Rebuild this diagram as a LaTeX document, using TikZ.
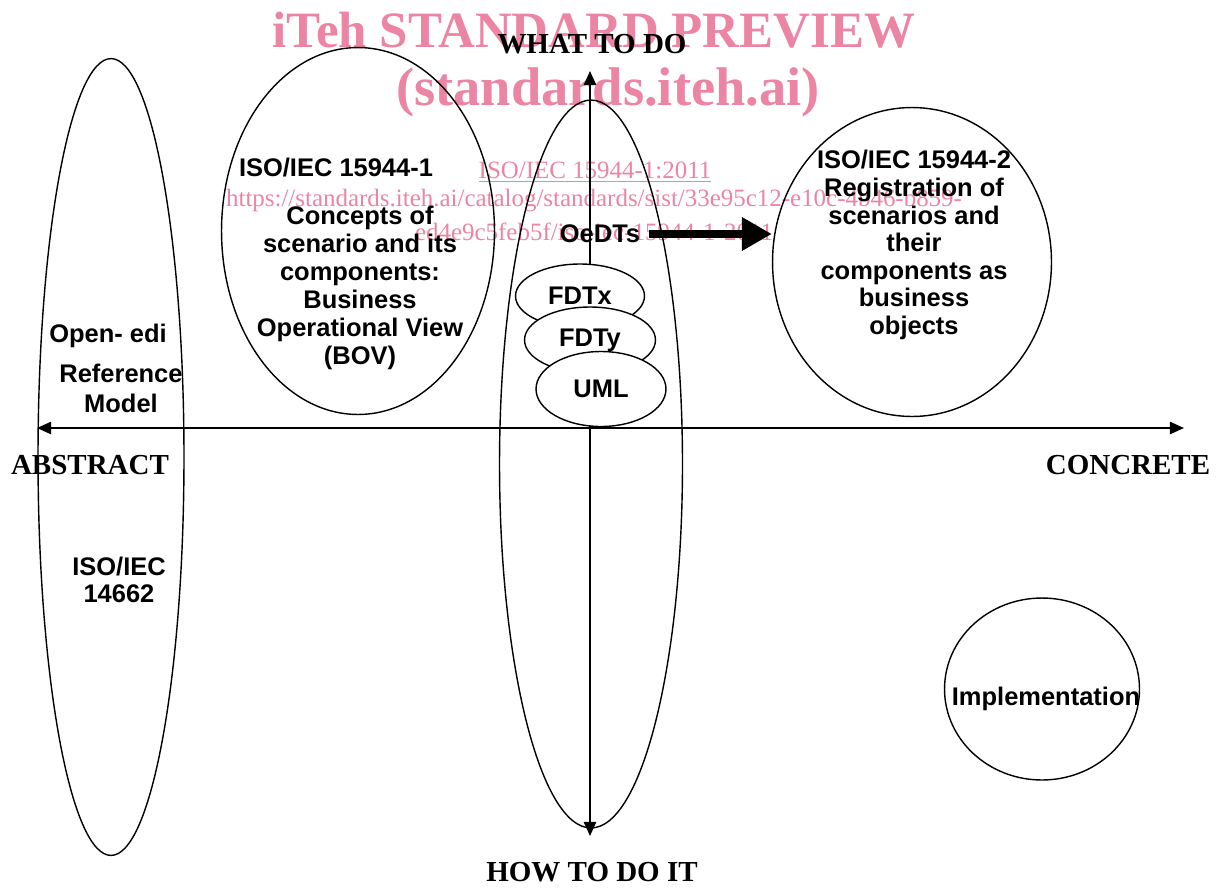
\documentclass[tikz,border=0pt]{standalone}
\usepackage{fontspec}
\setmainfont{Liberation Serif}
\setsansfont{Liberation Sans}
\usetikzlibrary{shapes.geometric}
\usetikzlibrary{arrows.meta}
\definecolor{wmpink}{RGB}{236,132,163}

\begin{document}
\begin{tikzpicture}[x=0.02cm, y=-0.02cm,
  blob/.style={draw, ellipse, line width=0.8pt, inner sep=0pt},
  subblob/.style={blob, fill=white, font=\sffamily\bfseries\fontsize{14.5}{16}\selectfont},
  lbl/.style={font=\sffamily\bfseries\fontsize{14.5}{16}\selectfont, align=center, inner sep=0pt},
  axlbl/.style={font=\bfseries\fontsize{16.5}{19}\selectfont, inner sep=0pt},
  axis/.style={line width=0.9pt, {Triangle[length=8pt,width=7pt]}-{Triangle[length=8pt,width=7pt]}},
  wm/.style={text=wmpink, inner sep=0pt}
]
\useasboundingbox (0,0) rectangle (1223,893);

% watermark
\node[wm, font=\bfseries\fontsize{29}{29}\selectfont] (wmA) at (594,30) {iTeh STANDARD PREVIEW};
\node[wm, font=\bfseries\fontsize{31}{31}\selectfont] (wmB) at (608,92) {(standards.iteh.ai)};
\node[wm, font=\fontsize{14.2}{16}\selectfont] (wmC) at (595,172) {\underline{ISO/IEC 15944-1:2011}};
\node[wm, font=\fontsize{14.2}{16}\selectfont] (wmD) at (594,201) {https://standards.iteh.ai/catalog/standards/sist/33e95c12-e10c-4b46-b859-};
\node[wm, font=\fontsize{14.2}{16}\selectfont] (wmE) at (594,232) {ed4e9c5feb5f/iso-iec-15944-1-2011};

% axes
\coordinate (top) at (590,71);
\coordinate (bot) at (590,836);
\coordinate (lft) at (37,428);
\coordinate (rgt) at (1184,428);
\draw[axis] (bot) -- (top);
\draw[axis] (lft) -- (rgt);
\node[axlbl] (what) at (592,44) {WHAT TO DO};
\node[axlbl] (how) at (592,872) {HOW TO DO IT};
\node[axlbl] (abs) at (90,465) {ABSTRACT};
\node[axlbl] (con) at (1128,465) {CONCRETE};

% big ellipses
\node[blob, minimum width=2.92cm, minimum height=15.94cm] (orm) at (111,457) {};
\node[blob, minimum width=5.46cm, minimum height=7.34cm] (bov) at (358,231) {};
\node[blob, minimum width=3.66cm, minimum height=14.56cm] (oedt) at (591,464) {};
\node[blob, minimum width=5.58cm, minimum height=6.18cm] (reg) at (912,262) {};
\node[blob, minimum width=3.9cm, minimum height=3.64cm] (impl) at (1042,689) {};

% description techniques
\node[subblob, minimum width=2.58cm, minimum height=1.28cm] (fdtx) at (580,296) {FDTx};
\node[subblob, minimum width=2.62cm, minimum height=1.32cm] (fdty) at (590,340) {FDTy};
\node[subblob, minimum width=2.6cm, minimum height=1.5cm] (uml) at (601,389) {UML};

% texts
\node[lbl] (ormA) at (108,336) {Open- edi};
\node[lbl, font=\sffamily\bfseries\fontsize{14.5}{17}\selectfont] (ormB) at (121,388) {Reference\\Model};
\node[lbl, font=\sffamily\bfseries\fontsize{14.5}{15}\selectfont] (ormC) at (119,580) {ISO/IEC\\14662};
\node[lbl] (bovA) at (336,168) {ISO/IEC 15944-1};
\node[lbl] (bovB) at (360,288) {Concepts of\\scenario and its\\components:\\Business\\Operational View\\(BOV)};
\node[lbl, font=\sffamily\bfseries\fontsize{14.5}{15.7}\selectfont] (regA) at (914,245) {ISO/IEC 15944-2\\Registration of\\scenarios and\\their\\components as\\business\\objects};
\node[lbl] (implA) at (1046,699) {Implementation};
\node[lbl, inner sep=5pt] (oedts) at (600,234) {OeDTs};

\draw[line width=4.5pt, -{Triangle[length=17pt,width=18pt]}] (oedts.east) -- (reg.west |- oedts.east);
\end{tikzpicture}
\end{document}
